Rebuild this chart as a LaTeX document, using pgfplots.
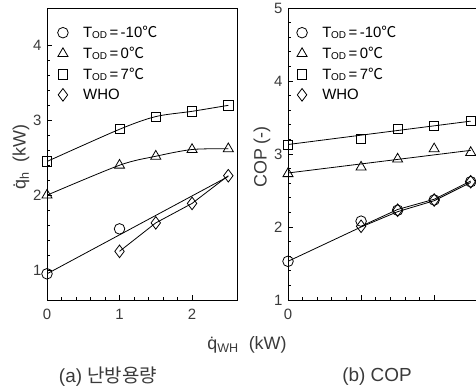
\documentclass[border=0pt]{standalone}
\usepackage{fontspec}
\setmainfont{Liberation Sans}
\newfontfamily\cjk{Noto Sans CJK KR}
\usepackage{pgfplots}
\pgfplotsset{compat=1.18}
\definecolor{txt}{HTML}{3A3A3A}
\newcommand{\qd}{q̇}
\newcommand{\degC}{{\cjk ℃}}
\newcommand{\Tod}{T\kern-0.3pt\raisebox{-0.15ex}{\fontsize{10}{10}\selectfont OD}}
\pgfplotsset{
  base/.style={
    scale only axis, width=190bp, height=292bp,
    axis line style={line width=1bp},
    tick style={line width=0.8bp, black},
    tick align=inside, xtick pos=left, ytick pos=left,
    minor tick num=4, major tick length=5bp, minor tick length=3bp,
    ticklabel style={font=\fontsize{15}{17}\selectfont, text=txt},
    xticklabel style={yshift=-6bp},
    yticklabel style={xshift=-2bp},
    /pgf/number format/assume math mode=true,
    every axis plot/.append style={line width=0.8bp, black},
    legend cell align=left,
    legend style={draw=none, fill=none, inner sep=0pt, anchor=north west,
      font=\fontsize{15}{17}\selectfont, row sep=4bp,
      /tikz/every odd column/.append style={column sep=13bp}},
  },
  lg/.style={only marks, legend image code/.code={\draw[##1] plot coordinates {(0bp,0bp)};}},
  mc/.style={mark=o, mark size=5.3bp, mark options={fill=white, solid, line width=0.8bp}},
  mt/.style={mark=triangle, mark size=5.8bp, mark options={fill=white, solid, line width=0.8bp}},
  ms/.style={mark=square, mark size=4.6bp, mark options={fill=white, solid, line width=0.8bp}},
  md/.style={mark=diamond, mark size=6.3bp, mark options={fill=white, solid, line width=0.8bp}},
}
\begin{document}
\begin{tikzpicture}[x=1bp,y=1bp]
\useasboundingbox (0,0) rectangle (476,390);
% ---------- (a) heating capacity
\begin{axis}[base, at={(47bp,90bp)}, anchor=south west,
  xmin=0, xmax=2.62, ymin=0.6, ymax=4.5,
  xtick={0,1,2}, ytick={1,2,3,4},
  legend style={at={(axis description cs:0.055,0.945)}}]
\addplot[forget plot, no marks] coordinates {(0,0.95) (2.5,2.25)};
\addplot[forget plot, no marks] coordinates {(1,1.25) (1.5,1.63) (2,1.89) (2.5,2.26)};
\addplot[forget plot, no marks, smooth] coordinates {(0,2.45) (1,2.88) (1.5,3.05) (2,3.12) (2.5,3.20)};
\addplot[forget plot, no marks, smooth] coordinates {(0,2.00) (1,2.40) (1.5,2.52) (2,2.61) (2.5,2.62)};
\addplot[forget plot, only marks, md] coordinates {(1,1.25) (1.5,1.63) (2,1.89) (2.5,2.26)};
\addplot[lg, mc] coordinates {(0,0.95) (1,1.55)};
\addlegendentry{\Tod\,=\,-10\degC}
\addplot[lg, mt] coordinates {(0,2.00) (1,2.40) (1.5,2.52) (2,2.61) (2.5,2.62)};
\addlegendentry{\Tod\,=\,0\degC}
\addplot[lg, ms] coordinates {(0,2.45) (1,2.88) (1.5,3.05) (2,3.12) (2.5,3.20)};
\addlegendentry{\Tod\,=\,7\degC}
\addlegendimage{lg, md}
\addlegendentry{WHO}
\end{axis}
% ---------- (b) COP
\begin{axis}[base, at={(288bp,90bp)}, anchor=south west,
  xmin=0, xmax=2.6, ymin=1, ymax=5,
  xtick={0,1,2}, xticklabels={0,,}, ytick={1,2,3,4,5},
  legend style={at={(axis description cs:0.045,0.945)}}]
\addplot[forget plot, no marks] coordinates {(0,3.13) (2.5,3.45)};
\addplot[forget plot, no marks] coordinates {(0,2.74) (2.5,3.05)};
\addplot[forget plot, no marks] coordinates {(0,1.53) (1,2.00) (1.5,2.21) (2,2.36) (2.5,2.61)};
\addplot[forget plot, no marks] coordinates {(1,2.01) (1.5,2.24) (2,2.38) (2.5,2.63)};
\addplot[forget plot, only marks, md] coordinates {(1,2.01) (1.5,2.23) (2,2.37) (2.5,2.62)};
\addplot[lg, mc] coordinates {(0,1.53) (1,2.08) (1.5,2.23) (2,2.37) (2.5,2.62)};
\addlegendentry{\Tod\,=\,-10\degC}
\addplot[lg, mt] coordinates {(0,2.73) (1,2.82) (1.5,2.93) (2,3.07) (2.5,3.02)};
\addlegendentry{\Tod\,=\,0\degC}
\addplot[lg, ms] coordinates {(0,3.13) (1,3.21) (1.5,3.34) (2,3.38) (2.5,3.45)};
\addlegendentry{\Tod\,=\,7\degC}
\addlegendimage{lg, md}
\addlegendentry{WHO}
\end{axis}
% ---------- labels
\node[rotate=90, text=txt, font=\fontsize{18}{20}\selectfont] at (21,233) {\qd\textsubscript{h}\ \ (kW)};
\node[rotate=90, text=txt, font=\fontsize{18}{20}\selectfont] at (262,233) {COP (-)};
\node[text=txt, font=\fontsize{18}{20}\selectfont] at (247,45) {\qd\textsubscript{WH}\ \ (kW)};
\node[text=txt, font=\fontsize{19}{21}\selectfont] at (108,13) {(a) {\cjk 난방용량}};
\node[text=txt, font=\fontsize{19}{21}\selectfont] at (377,13) {(b) COP};
\end{tikzpicture}
\end{document}
